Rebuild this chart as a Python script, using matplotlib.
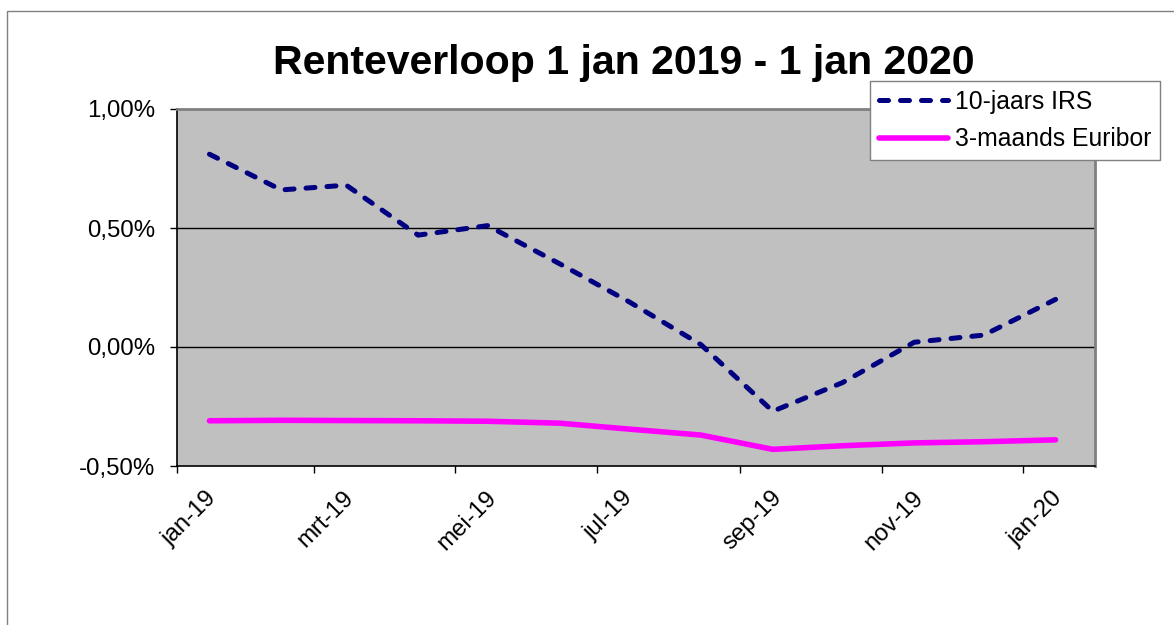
import datetime as dt
import matplotlib
matplotlib.use("Agg")
from matplotlib import pyplot as plt
from matplotlib import dates as mdates
from matplotlib import transforms as mtransforms
from matplotlib.patches import Rectangle
from matplotlib.ticker import FuncFormatter

plt.rcParams['font.family'] = ['Liberation Sans', 'DejaVu Sans']

# data (percent)
dates = [dt.date(2019, m, 15) for m in range(1, 13)] + [dt.date(2020, 1, 15)]
irs_10y = [0.81, 0.66, 0.68, 0.47, 0.51, 0.35, 0.19, 0.01, -0.27, -0.15, 0.02, 0.05, 0.20]
euribor_3m = [-0.31, -0.308, -0.309, -0.31, -0.312, -0.32, -0.345, -0.37, -0.43, -0.415,
              -0.403, -0.398, -0.39]

tick_dates = [dt.date(2019, 1, 1), dt.date(2019, 3, 1), dt.date(2019, 5, 1), dt.date(2019, 7, 1),
              dt.date(2019, 9, 1), dt.date(2019, 11, 1), dt.date(2020, 1, 1)]
tick_labels = ['jan-19', 'mrt-19', 'mei-19', 'jul-19', 'sep-19', 'nov-19', 'jan-20']
y_ticks = [-0.5, 0.0, 0.5, 1.0]

W, H = 1174, 625
fig = plt.figure(figsize=(W / 100, H / 100), dpi=100)

# outer chart frame (Excel style)
fig.patches.append(Rectangle((7 / W, -0.1), 1.2, (H - 11) / H + 0.1, transform=fig.transFigure,
                             fill=False, edgecolor='#808080', linewidth=1.0, clip_on=False))

ax = fig.add_axes([177 / W, (H - 466) / H, (1095 - 177) / W, (466 - 109) / H])
ax.set_facecolor('#C0C0C0')

ax.plot(dates, irs_10y, color='#000080', linewidth=3.6, linestyle=(0, (1.8, 2.4)),
        dash_capstyle='round', solid_capstyle='round', label='10-jaars IRS', zorder=3)
ax.plot(dates, euribor_3m, color='#FF00FF', linewidth=4.0, solid_capstyle='round',
        label='3-maands Euribor', zorder=3)

ax.set_xlim(dt.date(2019, 1, 1), dt.date(2020, 2, 1))
ax.set_ylim(-0.5, 1.0)
ax.set_yticks(y_ticks)
ax.yaxis.set_major_formatter(FuncFormatter(lambda v, p: f"{v:.2f}%".replace('.', ',')))
ax.set_xticks([mdates.date2num(d) for d in tick_dates])
ax.set_xticklabels(tick_labels, rotation=45, ha='center', va='top')

for v in [0.0, 0.5]:
    ax.axhline(v, color='black', linewidth=1.0, zorder=1)

ax.tick_params(axis='both', direction='out', length=5, width=1, color='black',
               labelsize=17.3, labelcolor='black')
ax.tick_params(axis='y', pad=11)
ax.tick_params(axis='x', pad=10)

offset = mtransforms.ScaledTranslation(12 / 100, 0, fig.dpi_scale_trans)
for lbl in ax.get_xticklabels():
    lbl.set_transform(lbl.get_transform() + offset)

for side in ['left', 'bottom']:
    ax.spines[side].set_color('black')
    ax.spines[side].set_linewidth(1.2)
for side in ['top', 'right']:
    ax.spines[side].set_color('#808080')
    ax.spines[side].set_linewidth(2.0)

fig.text(624 / W, 1 - 74 / H, 'Renteverloop 1 jan 2019 - 1 jan 2020', ha='center', va='baseline',
         fontsize=29.5, fontweight='bold')

leg = ax.legend(loc='upper left', bbox_to_anchor=(870 / W, 1 - 81 / H), bbox_transform=fig.transFigure,
                borderaxespad=0, fontsize=17.8, frameon=True, fancybox=False, framealpha=1,
                edgecolor='#808080', handlelength=2.8, handletextpad=0.3, labelspacing=0.55,
                borderpad=0.35)
leg.get_frame().set_linewidth(1.0)
leg.set_zorder(10)

fig.savefig('out.png', dpi=100)
